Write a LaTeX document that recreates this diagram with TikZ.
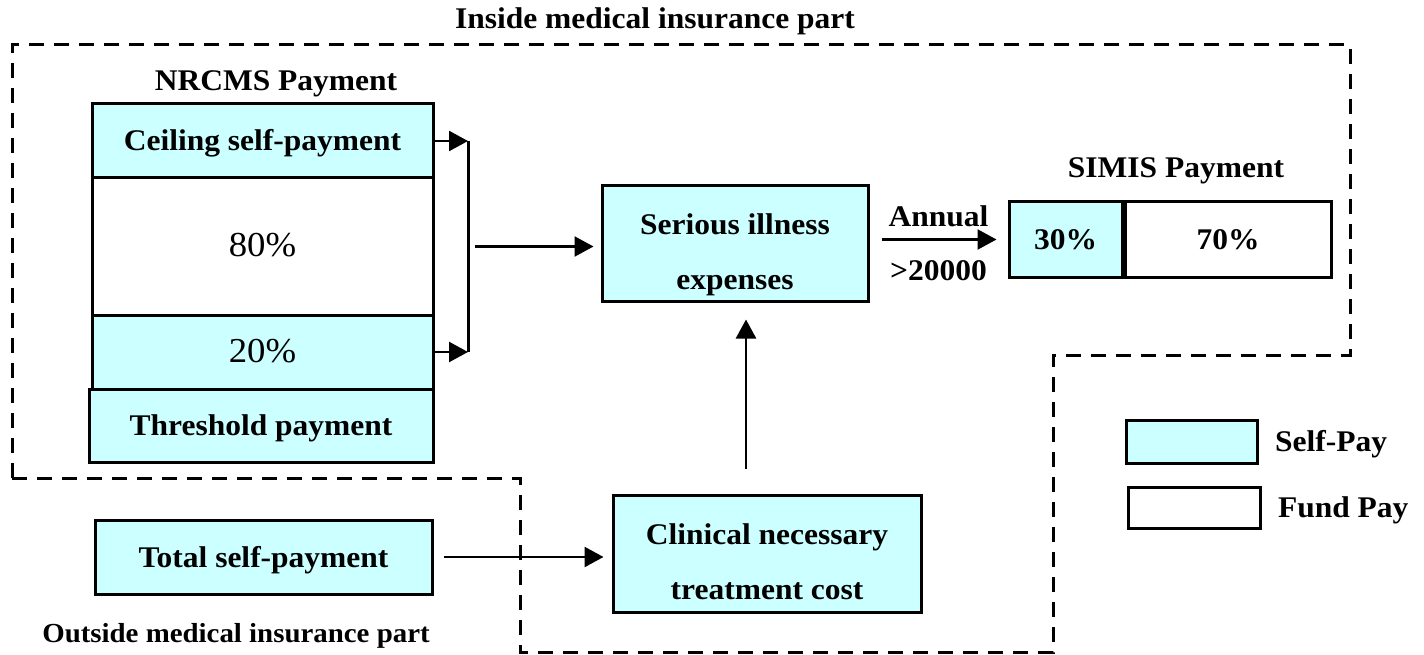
\documentclass[tikz,border=0pt]{standalone}
\usepackage{fontspec}
\setmainfont[FakeStretch=1.05]{Liberation Serif}
\usepackage{xcolor}
\usetikzlibrary{arrows.meta,positioning}
\definecolor{selfpay}{HTML}{CCFFFF}

\begin{document}
\begin{tikzpicture}[x=1pt, y=-1pt,
  every node/.style={font=\fontsize{30}{34}\selectfont\bfseries},
  box/.style={draw, line width=3pt, inner sep=0pt},
  self/.style={box, fill=selfpay},
  fund/.style={box, fill=white},
  oneline/.style={text height=21pt, text depth=1pt},
  twoline/.style={align=center, font=\fontsize{30}{55}\selectfont\bfseries},
  pct/.style={font=\fontsize{35}{40}\selectfont},
  arr/.style={-{Triangle[length=19pt,width=20pt]}, line width=2.5pt},
  zone/.style={dash pattern=on 15pt off 10pt, line width=3pt}]
  \useasboundingbox (0,0) rectangle (1424,655);

  \draw[zone] (12,478) -- (12,45) -- (1350,45) -- (1350,355) -- (1053,355)
    -- (1053,652) -- (520,652) -- (520,478) -- cycle;
  \node (inside)  at (655,21)  {Inside medical insurance part};
  \node[font=\fontsize{27.5}{32}\selectfont\bfseries] (outside) at (236,636) {Outside medical insurance part};

  \node (nrcms) at (276,84) {NRCMS Payment};
  \node[fund, pct, oneline, minimum width=341, minimum height=137] (mid80) at (262.5,246.5) {80\%};
  \node[self, oneline, minimum width=341, minimum height=74] (ceiling) at (262.5,141) {Ceiling self-payment};
  \node[self, pct, oneline, minimum width=341, minimum height=74] (p20) at (262.5,352) {20\%};
  \node[self, oneline, minimum width=344, minimum height=73] (thresh) at (261,425.5) {Threshold payment};

  \node[self, twoline, minimum width=266, minimum height=115] (serious) at (735,243.5) {\rule{0pt}{43pt}Serious illness\\expenses};
  \node[self, twoline, minimum width=308, minimum height=117] (clinical) at (767,553.5) {\rule{0pt}{37pt}Clinical necessary\\treatment cost};
  \node[self, oneline, minimum width=337, minimum height=74] (total) at (263.5,557) {Total self-payment};

  \node (simis) at (1176,171) {SIMIS Payment};
  \node[self, oneline, minimum width=113, minimum height=75] (p30) at (1065.5,239.5) {30\%};
  \node[fund, oneline, minimum width=206, minimum height=75, anchor=west] (p70) at (p30.east) {70\%};

  \node[self, minimum width=131, minimum height=43] (legS) at (1191.5,441.5) {};
  \node[fund, minimum width=132, minimum height=41] (legF) at (1194,507.5) {};
  \node[oneline, right=13pt of legS] (selflbl) {Self-Pay};
  \node[oneline, right=13pt of legF] (fundlbl) {Fund Pay};

  \coordinate (brk) at (468,0);
  \coordinate (up) at (746,0);
  \draw[line width=3pt] (ceiling.east -| brk) -- (p20.east -| brk);
  \draw[arr] (ceiling.east) -- (ceiling.east -| brk);
  \draw[arr] (p20.east) -- (p20.east -| brk);
  \draw[arr, shorten <=7pt, shorten >=7pt] (mid80.east -| brk) -- (serious.west |- mid80.east);
  \draw[arr, shorten <=25pt, shorten >=17pt] (clinical.north -| up) -- (serious.south -| up);
  \draw[arr, shorten <=10pt, shorten >=8pt] (total.east) -- (total.east -| clinical.west);
  \draw[arr, shorten <=12pt, shorten >=11pt] (p30.west -| serious.east) -- (p30.west)
    node[midway, above=8pt] (annual) {Annual}
    node[midway, below=16pt] (limit) {>20000};
\end{tikzpicture}
\end{document}
